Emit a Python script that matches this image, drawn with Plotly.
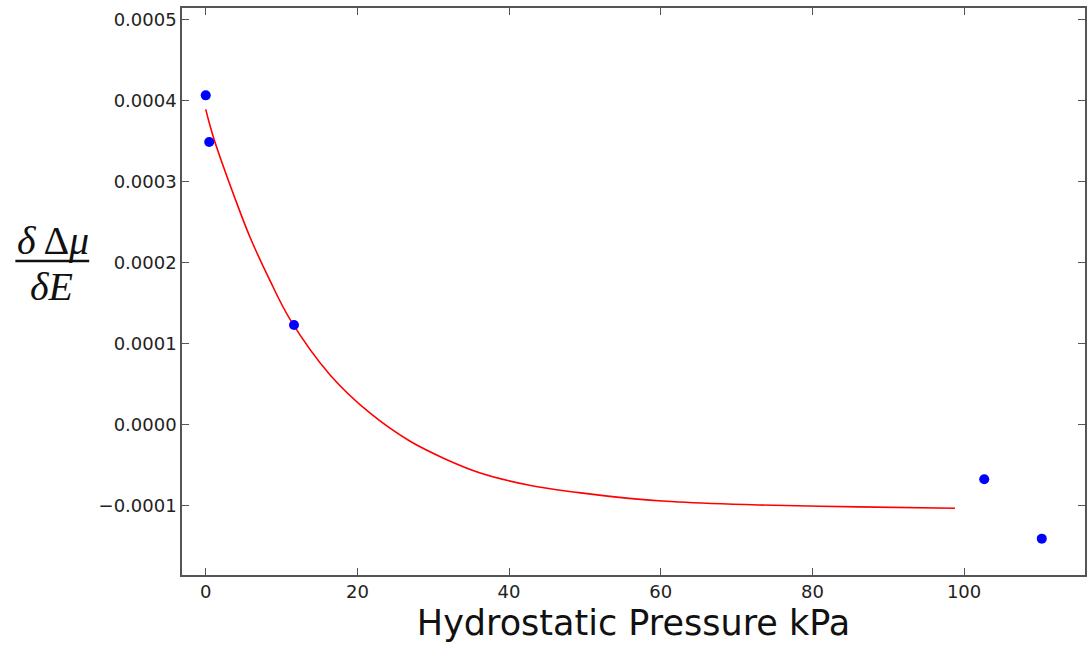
import plotly.graph_objects as go

# Measured points: hydrostatic pressure (kPa) vs d(delta mu)/dE
pressure_kpa = [0.0, 0.46, 11.64, 102.66, 110.25]
dmu_de = [4.063e-4, 3.486e-4, 1.226e-4, -0.679e-4, -1.412e-4]

# Fitted trend curve
fit_pressure = [0.0, 1.0, 3.9, 5.8, 8.4, 11.1, 16.4, 21.6, 26.9, 31.5, 36.1,
                42.7, 49.2, 55.8, 62.4, 72.9, 86.1, 98.8]
fit_dmu_de = [3.89e-4, 3.55e-4, 2.78e-4, 2.32e-4, 1.79e-4, 1.30e-4, 0.61e-4,
              0.144e-4, -0.206e-4, -0.424e-4, -0.597e-4, -0.753e-4, -0.844e-4,
              -0.914e-4, -0.96e-4, -0.996e-4, -1.02e-4, -1.037e-4]

x_ticks = [0, 20, 40, 60, 80, 100]
y_ticks = [-0.0001, 0.0, 0.0001, 0.0002, 0.0003, 0.0004, 0.0005]

W, H = 1088, 648
L, R, T, B = 182, 1, 8, 73

fig = go.Figure()
fig.add_trace(go.Scatter(
    x=fit_pressure, y=fit_dmu_de, mode="lines",
    line=dict(color="#ff0000", width=1.6, shape="spline", smoothing=1.0),
    showlegend=False, hoverinfo="skip",
))
fig.add_trace(go.Scatter(
    x=pressure_kpa, y=dmu_de, mode="markers",
    marker=dict(color="#0000ff", size=10, line=dict(width=0)),
    showlegend=False,
))

axis_common = dict(
    showgrid=False, zeroline=False, showline=True, linecolor="#555555",
    linewidth=1.5, mirror="ticks", ticks="inside", ticklen=7, tickwidth=1,
    tickcolor="#555555",
    tickfont=dict(family="DejaVu Sans", size=18, color="#222222"),
)

fig.update_xaxes(
    range=[-3.13, 115.95], tickvals=x_ticks, ticktext=[str(v) for v in x_ticks],
    title=dict(text="Hydrostatic Pressure kPa",
               font=dict(family="DejaVu Sans", size=35, color="#111111"),
               standoff=9),
    **axis_common,
)
fig.update_yaxes(
    range=[-0.0001861, 0.0005142], tickvals=y_ticks, tickformat=".4f",
    **axis_common,
)

plot_w = W - L - R
plot_h = H - T - B


def px_x(p):
    return (p - L) / plot_w


def px_y(p):
    return (H - B - p) / plot_h


label_font = dict(family="Liberation Serif", size=40, color="#111111")
fig.add_annotation(
    text="<i>δ</i> Δ<i>μ</i>", xref="paper", yref="paper",
    x=px_x(53), y=px_y(240), xanchor="center", yanchor="middle",
    showarrow=False, font=label_font,
)
fig.add_annotation(
    text="<i>δE</i>", xref="paper", yref="paper",
    x=px_x(51), y=px_y(286), xanchor="center", yanchor="middle",
    showarrow=False, font=label_font,
)
fig.add_shape(
    type="line", xref="paper", yref="paper",
    x0=px_x(15), x1=px_x(89), y0=px_y(261), y1=px_y(261),
    line=dict(color="#111111", width=2.5),
)

fig.update_layout(
    width=W, height=H,
    margin=dict(l=L, r=R, t=T, b=B),
    paper_bgcolor="white", plot_bgcolor="white",
)

fig.write_html("out.html")
